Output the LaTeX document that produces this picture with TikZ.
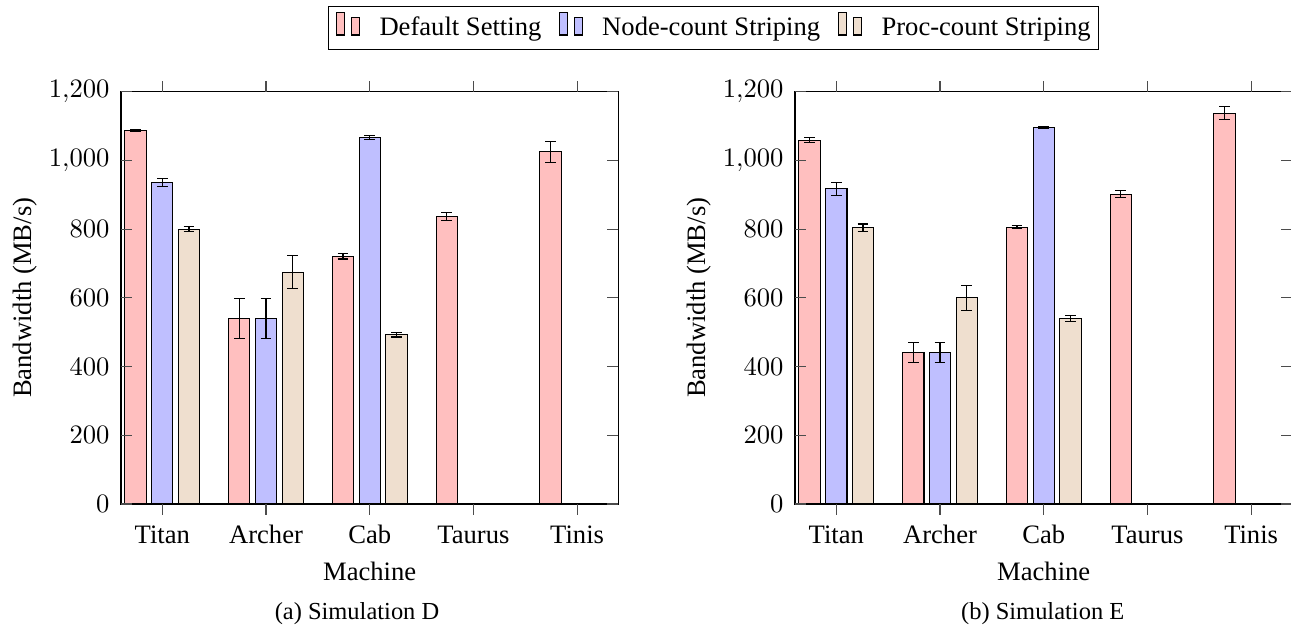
\documentclass[tikz,border=0pt]{standalone}
\usepackage[no-math]{fontspec}
\setmainfont{Liberation Serif}

\colorlet{ser0}{red!25}
\colorlet{ser1}{blue!25}
\colorlet{ser2}{brown!25}

% one bandwidth panel: #1 left edge, #2 group/series/value/error, #3 caption, #4 caption x, #5 name
\newcommand{\bwpanel}[5]{%
  \begin{scope}[shift={(#1,127)}]
    \foreach \g/\s/\v/\e in {#2} {
      \pgfmathsetmacro\bx{41.3+103.7*\g+26.7*(\s-1)}
      \pgfmathsetmacro\by{0.3436*\v}
      \pgfmathsetmacro\be{0.3436*\e}
      \draw[bar, fill=ser\s] (\bx-10.65,0) rectangle (\bx+10.65,\by);
      \draw[err] (\bx,\by-\be) -- (\bx,\by+\be)
        (\bx-5.3,\by-\be) -- (\bx+5.3,\by-\be)
        (\bx-5.3,\by+\be) -- (\bx+5.3,\by+\be);
    }
    \draw[frame] (0,0) rectangle (497.3,412.3);
    % y ticks sit inside, on both sides
    \foreach \yt/\lab in {0/0,1/200,2/400,3/600,4/800,5/{1{,}000},6/{1{,}200}} {
      \draw[tick] (0,68.72*\yt) -- (11,68.72*\yt) (497.3,68.72*\yt) -- (486.3,68.72*\yt);
      \node[anchor=east, inner sep=0] (#5-y\yt) at (-11,68.72*\yt) {$\lab$};
    }
    % x ticks stick out, top and bottom
    \foreach \m [count=\gi from 0] in {Titan,Archer,Cab,Taurus,Tinis} {
      \draw[tick] (41.3+103.7*\gi,0) -- ++(0,-11) (41.3+103.7*\gi,412.3) -- ++(0,11);
      \node[anchor=base] (#5-x\gi) at (41.3+103.7*\gi,-39.3) {\m};
    }
    \node[anchor=base] (#5-xlab) at (248.7,-76) {Machine};
    \node[anchor=base, rotate=90] (#5-ylab) at (-90,206.2) {Bandwidth (MB/s)};
    \node[anchor=base, font=\fontsize{9.2}{11}\selectfont] (#5-cap) at (#4,-115) {#3};
  \end{scope}}

\begin{document}
\begin{tikzpicture}[
  x=0.3759pt, y=0.3759pt, font=\fontsize{10}{12}\selectfont,
  bar/.style={draw=black, line width=0.4pt},
  err/.style={draw=black, line width=0.4pt},
  frame/.style={draw=black, line width=0.4pt},
  tick/.style={draw=black!70, line width=0.4pt}
]
  \useasboundingbox (0,0) rectangle (1291,631);

  % legend
  \draw[frame] (328.3,581.7) rectangle (1098.3,624.3);
  \foreach \s/\bx/\tx/\lab in {0/340.3/379/Default Setting,
      1/563.3/601.7/Node-count Striping, 2/842.5/881/Proc-count Striping} {
    \draw[bar, fill=ser\s] (\bx-4,596) rectangle (\bx+4,618.3)
      (\bx+11.2,596) rectangle (\bx+19.2,613.2);
    \node[anchor=base west, inner sep=0] (leg\s) at (\tx,596) {\lab};
  }

  \bwpanel{121}{0/0/1087/4, 0/1/936/12, 0/2/800/7, 1/0/540/57, 1/1/540/57,
    1/2/675/48, 2/0/721/8, 2/1/1067/6, 2/2/493/7, 3/0/837/11, 4/0/1025/30}
    {(a) Simulation D}{236}{simd}
  \bwpanel{795}{0/0/1059/8, 0/1/918/19, 0/2/804/11, 1/0/442/29, 1/1/442/29,
    1/2/600/36, 2/0/806/4, 2/1/1096/2, 2/2/540/8, 3/0/902/10, 4/0/1137/19}
    {(b) Simulation E}{247.7}{sime}
\end{tikzpicture}
\end{document}
